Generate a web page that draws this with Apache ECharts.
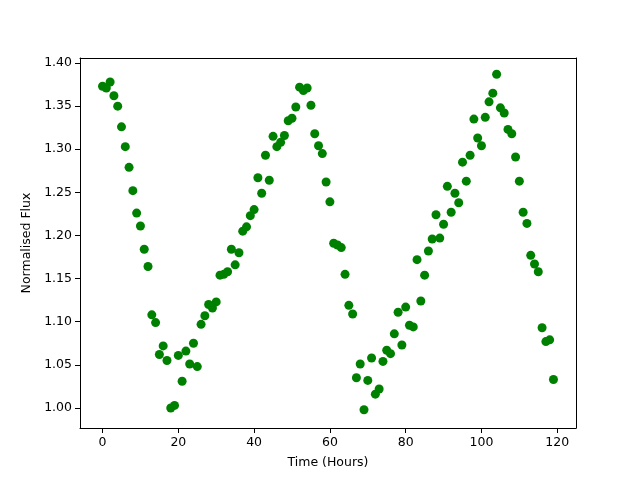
<!DOCTYPE html>
<html>
<head>
<meta charset="utf-8">
<script src="https://cdn.jsdelivr.net/npm/echarts@6/dist/echarts.min.js"></script>
<style>
  html, body { margin: 0; padding: 0; background: #fff; }
  #chart { width: 640px; height: 480px; }
</style>
</head>
<body>
<div id="chart"></div>
<script>
// normalised flux, one reading per hour
const hours = Array.from({ length: 120 }, (_, i) => i)
const flux = [
  1.373, 1.371, 1.378, 1.362, 1.350, 1.326, 1.303, 1.279, 1.252, 1.226,
  1.211, 1.184, 1.164, 1.108, 1.099, 1.062, 1.072, 1.055, 1.000, 1.003,
  1.061, 1.031, 1.066, 1.051, 1.075, 1.048, 1.097, 1.107, 1.120, 1.116,
  1.123, 1.154, 1.155, 1.158, 1.184, 1.166, 1.180, 1.205, 1.210, 1.223,
  1.230, 1.267, 1.249, 1.293, 1.264, 1.315, 1.303, 1.308, 1.316, 1.333,
  1.336, 1.349, 1.372, 1.368, 1.371, 1.351, 1.318, 1.304, 1.295, 1.262,
  1.239, 1.191, 1.189, 1.186, 1.155, 1.119, 1.109, 1.035, 1.051, 0.998,
  1.032, 1.058, 1.016, 1.022, 1.054, 1.067, 1.063, 1.086, 1.111, 1.073,
  1.117, 1.096, 1.094, 1.172, 1.124, 1.154, 1.182, 1.196, 1.224, 1.197,
  1.213, 1.257, 1.227, 1.249, 1.238, 1.285, 1.263, 1.293, 1.335, 1.313,
  1.304, 1.337, 1.355, 1.365, 1.387, 1.348, 1.342, 1.323, 1.318, 1.291,
  1.263, 1.227, 1.214, 1.177, 1.167, 1.158, 1.093, 1.077, 1.079, 1.033
]
const xTicks = [0, 20, 40, 60, 80, 100, 120]
const yTicks = [1.00, 1.05, 1.10, 1.15, 1.20, 1.25, 1.30, 1.35, 1.40]

const chart = echarts.init(document.getElementById('chart'))

const font = { fontFamily: 'DejaVu Sans', fontSize: 12.5, color: '#000' }
const line = { show: true, onZero: false, lineStyle: { color: '#000', width: 1 } }

chart.setOption({
  animation: false,
  grid: { left: 80, right: 64, top: 58, bottom: 52 },
  xAxis: [
    {
      type: 'value',
      min: -5.95,
      max: 124.95,
      name: 'Time (Hours)',
      nameLocation: 'middle',
      nameGap: 28,
      nameTextStyle: font,
      axisLine: line,
      axisTick: { show: true, length: 5, customValues: xTicks, lineStyle: { color: '#000' } },
      axisLabel: { ...font, margin: 8, customValues: xTicks },
      splitLine: { show: false }
    },
    {
      type: 'value', position: 'top', min: -5.95, max: 124.95,
      axisLine: line, axisTick: { show: false }, axisLabel: { show: false }, splitLine: { show: false }
    }
  ],
  yAxis: [
    {
      type: 'value',
      min: 0.9768,
      max: 1.4058,
      name: 'Normalised Flux',
      nameLocation: 'middle',
      nameGap: 47,
      nameTextStyle: font,
      axisLine: line,
      axisTick: { show: true, length: 5, customValues: yTicks, lineStyle: { color: '#000' } },
      axisLabel: { ...font, margin: 8, customValues: yTicks, formatter: v => v.toFixed(2) },
      splitLine: { show: false }
    },
    {
      type: 'value', position: 'right', min: 0.9768, max: 1.4058,
      axisLine: line, axisTick: { show: false }, axisLabel: { show: false }, splitLine: { show: false }
    }
  ],
  series: [
    {
      type: 'scatter',
      symbolSize: 9,
      itemStyle: { color: '#008000', opacity: 1 },
      data: hours.map((h, i) => [h, flux[i]])
    }
  ]
})
</script>
</body>
</html>
